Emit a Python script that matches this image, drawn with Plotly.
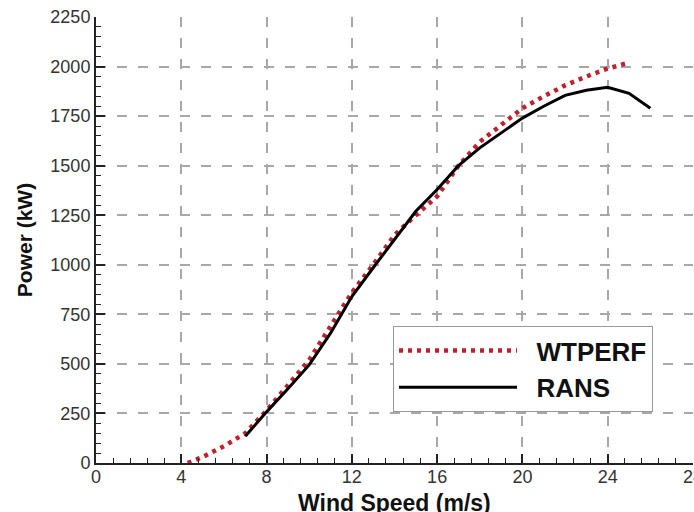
import plotly.graph_objects as go

# WTPERF prediction
wtperf_speed = [4.3, 5, 6, 7, 8, 9, 10, 11, 12, 13, 14, 15, 16, 17, 18, 19, 20, 21, 22, 23, 24, 25]
wtperf_power = [0, 30, 85, 150, 265, 390, 520, 690, 860, 1000, 1150, 1250, 1345, 1500, 1620, 1705, 1790, 1850, 1905, 1950, 1990, 2020]

# RANS simulation
rans_speed = [7, 8, 9, 10, 11, 12, 13, 14, 15, 16, 17, 18, 19, 20, 21, 22, 23, 24, 25, 26]
rans_power = [135, 258, 375, 495, 655, 840, 985, 1125, 1270, 1380, 1500, 1590, 1665, 1740, 1800, 1855, 1880, 1895, 1865, 1790]

x_ticks = [0, 4, 8, 12, 16, 20, 24, 28]
y_ticks = [0, 250, 500, 750, 1000, 1250, 1500, 1750, 2000, 2250]

FONT = "Liberation Sans, Arial, sans-serif"
NBSP = "\u00a0"

fig = go.Figure()
fig.add_trace(go.Scatter(
    x=wtperf_speed, y=wtperf_power, mode="lines", name=NBSP * 2 + "WTPERF",
    line=dict(color="#c0202c", width=4.5, dash="4px,5px"),
))
fig.add_trace(go.Scatter(
    x=rans_speed, y=rans_power, mode="lines", name=NBSP * 2 + "RANS",
    line=dict(color="#000000", width=3),
))

axis_common = dict(
    showline=True, linecolor="#222222", linewidth=2,
    ticks="inside", ticklen=9, tickwidth=2, tickcolor="#222222",
    showgrid=True, gridcolor="#a8a8a8", gridwidth=1.5, griddash="10px,11px",
    zeroline=False,
    tickfont=dict(family=FONT, size=18, color="#333333"),
    ticklabeloverflow="allow",
)

fig.update_xaxes(
    range=[0, 28], tickvals=x_ticks, ticktext=[str(v) for v in x_ticks],
    minor=dict(dtick=0.8, ticklen=5, tickwidth=1.2, tickcolor="#222222", ticks="inside", showgrid=False),
    automargin=False, ticklabelstandoff=-4,
    **axis_common,
)
fig.update_yaxes(
    range=[0, 2250], tickvals=y_ticks, ticktext=[str(v) for v in y_ticks],
    minor=dict(dtick=50, ticklen=5, tickwidth=1.2, tickcolor="#222222", ticks="inside", showgrid=False),
    title=dict(text="Power (kW)", font=dict(family=FONT, size=21, color="#111111", weight="bold"), standoff=12),
    automargin=False,
    **axis_common,
)

fig.add_annotation(
    text="Wind Speed (m/s)", xref="paper", yref="paper", x=0.5, y=-0.0905,
    xanchor="center", yanchor="middle", showarrow=False,
    font=dict(family=FONT, size=23, color="#111111", weight="bold"),
)

fig.update_layout(
    width=694, height=512,
    margin=dict(l=96, r=1, t=17, b=49, pad=0),
    plot_bgcolor="white", paper_bgcolor="white",
    showlegend=True,
    legend=dict(
        x=0.4975, y=0.307, xanchor="left", yanchor="top",
        bgcolor="white", bordercolor="#999999", borderwidth=1,
        font=dict(family=FONT, size=26, color="#111111", weight="bold"),
        itemwidth=118, tracegroupgap=0,
    ),
)

fig.write_html("out.html")
